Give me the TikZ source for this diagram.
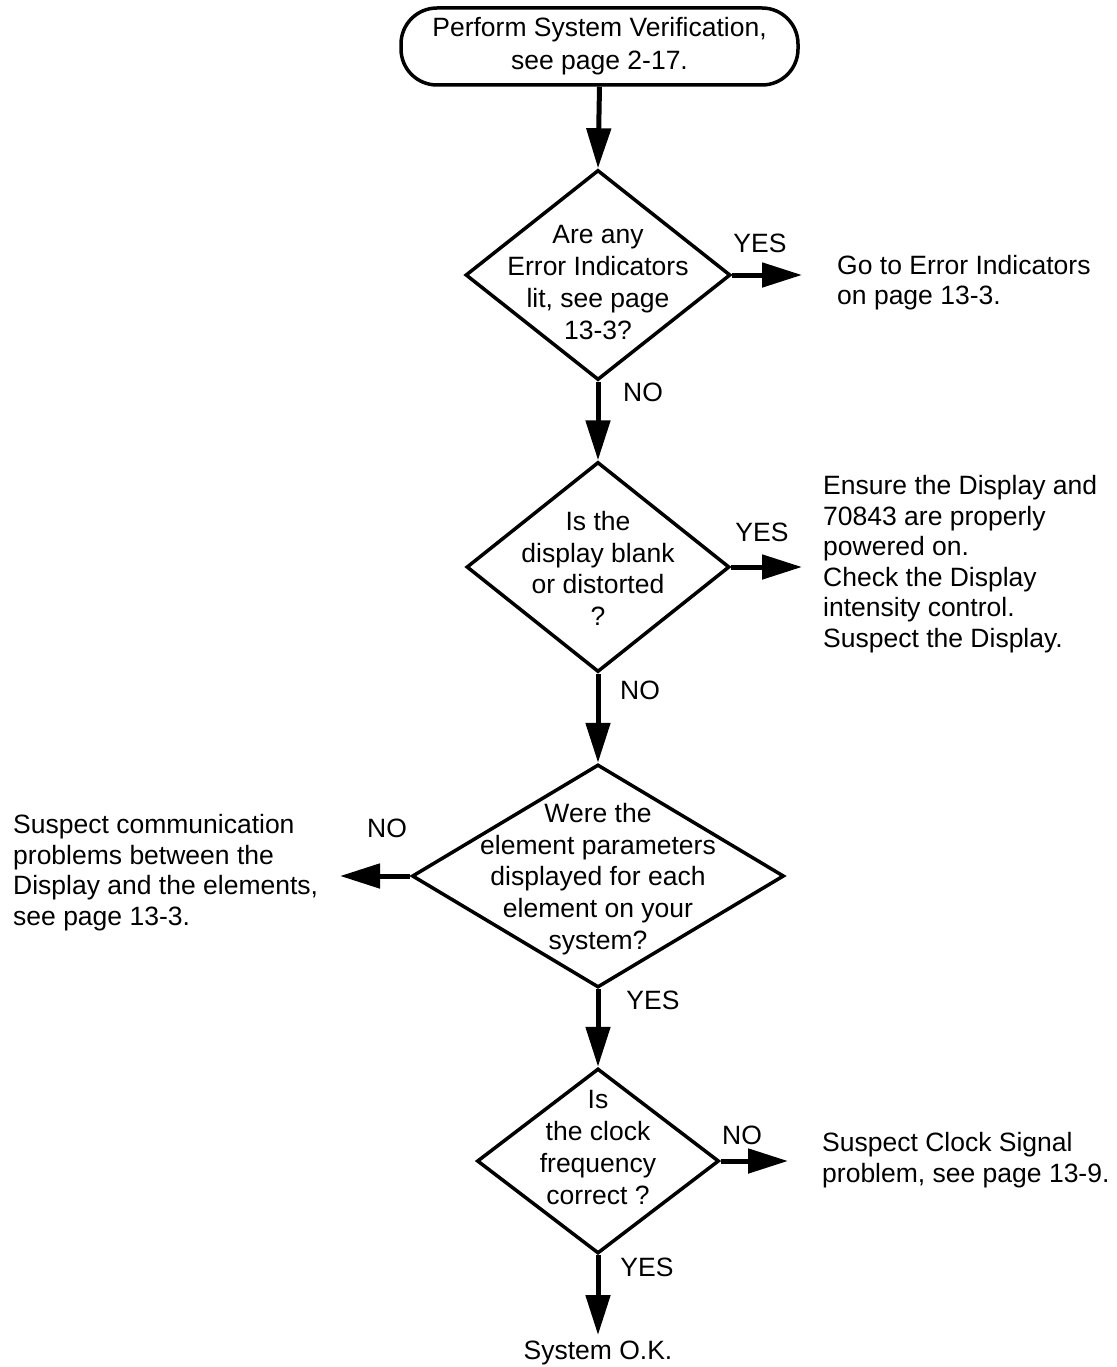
\documentclass[tikz,border=0pt]{standalone}
\usepackage{fontspec}
\setmainfont{Liberation Sans}
\usetikzlibrary{arrows.meta,shapes.geometric}
\begin{document}
\begin{tikzpicture}[x=1pt,y=-1pt,
  flow/.style={line width=5pt,-{Triangle[length=40pt,width=24pt]}},
  dia/.style={draw,line width=3.5pt,diamond,inner sep=0pt},
  txt/.style={font=\fontsize{26.5}{31.7}\selectfont,align=center,inner sep=0pt},
  side/.style={font=\fontsize{26.5}{30.5}\selectfont,align=left,inner sep=0pt},
  lbl/.style={font=\fontsize{26.5}{31}\selectfont,inner sep=0pt}]
\useasboundingbox (0,0) rectangle (1116,1367);
% start
\node[draw,line width=3.5pt,rounded corners=36pt,minimum width=397pt,minimum height=77pt,
      font=\fontsize{26.5}{33}\selectfont,align=center,inner sep=0pt] (t) at (599.5,46.5)
      {Perform System Verification,\\see page 2-17.};
% diamonds
\node[dia,minimum width=265pt,minimum height=210pt] (d1) at (598,275) {};
\node[txt] (d1t) at (598,282.5) {Are any\\Error Indicators\\lit, see page\\13-3?};
\node[dia,minimum width=263pt,minimum height=210pt] (d2) at (598,567) {};
\node[txt] (d2t) at (598,568.5) {Is the\\display blank\\or distorted\\?};
\node[dia,minimum width=372pt,minimum height=223pt] (d3) at (598,876) {};
\node[txt] (d3t) at (598,879) {Were the\\element parameters\\displayed for each\\element on your\\system?};
\node[dia,minimum width=242pt,minimum height=185pt] (d4) at (598,1161) {};
\node[txt] (d4t) at (598,1147.5) {Is\\the clock\\frequency\\correct ?};
% outcome texts
\node[side,anchor=west] (r1) at (837,282.5) {Go to Error Indicators\\on page 13-3.};
\node[side,anchor=west] (r2) at (823,564) {Ensure the Display and\\70843 are properly\\powered on.\\Check the Display\\intensity control.\\Suspect the Display.};
\node[side,anchor=west] (l3) at (13,872.5) {Suspect communication\\problems between the\\Display and the elements,\\see page 13-3.};
\node[side,anchor=west] (r4) at (822,1160) {Suspect Clock Signal\\problem, see page 13-9.};
\node[lbl] (ok) at (598,1353) {System O.K.};
% arrow end points
\coordinate (e1) at (802,275);
\coordinate (e2) at (802,567);
\coordinate (e3) at (340,876);
\coordinate (e4) at (788,1161);
\coordinate (e5) at (598,1335);
% connectors
\draw[flow] (t.south) -- (d1.north);
\draw[flow] (d1.east) -- (e1);
\draw[flow] (d1.south) -- (d2.north);
\draw[flow] (d2.east) -- (e2);
\draw[flow] (d2.south) -- (d3.north);
\draw[flow] (d3.west) -- (e3);
\draw[flow] (d3.south) -- (d4.north);
\draw[flow] (d4.east) -- (e4);
\draw[flow] (d4.south) -- (e5);
% branch labels
\node[lbl] (y1) at (760,243) {YES};
\node[lbl] (n1) at (643,392) {NO};
\node[lbl] (y2) at (762,532) {YES};
\node[lbl] (n2) at (640,690) {NO};
\node[lbl] (n3) at (387,828) {NO};
\node[lbl] (y3) at (653,1000) {YES};
\node[lbl] (n4) at (742,1135) {NO};
\node[lbl] (y4) at (647,1267) {YES};
\end{tikzpicture}
\end{document}
